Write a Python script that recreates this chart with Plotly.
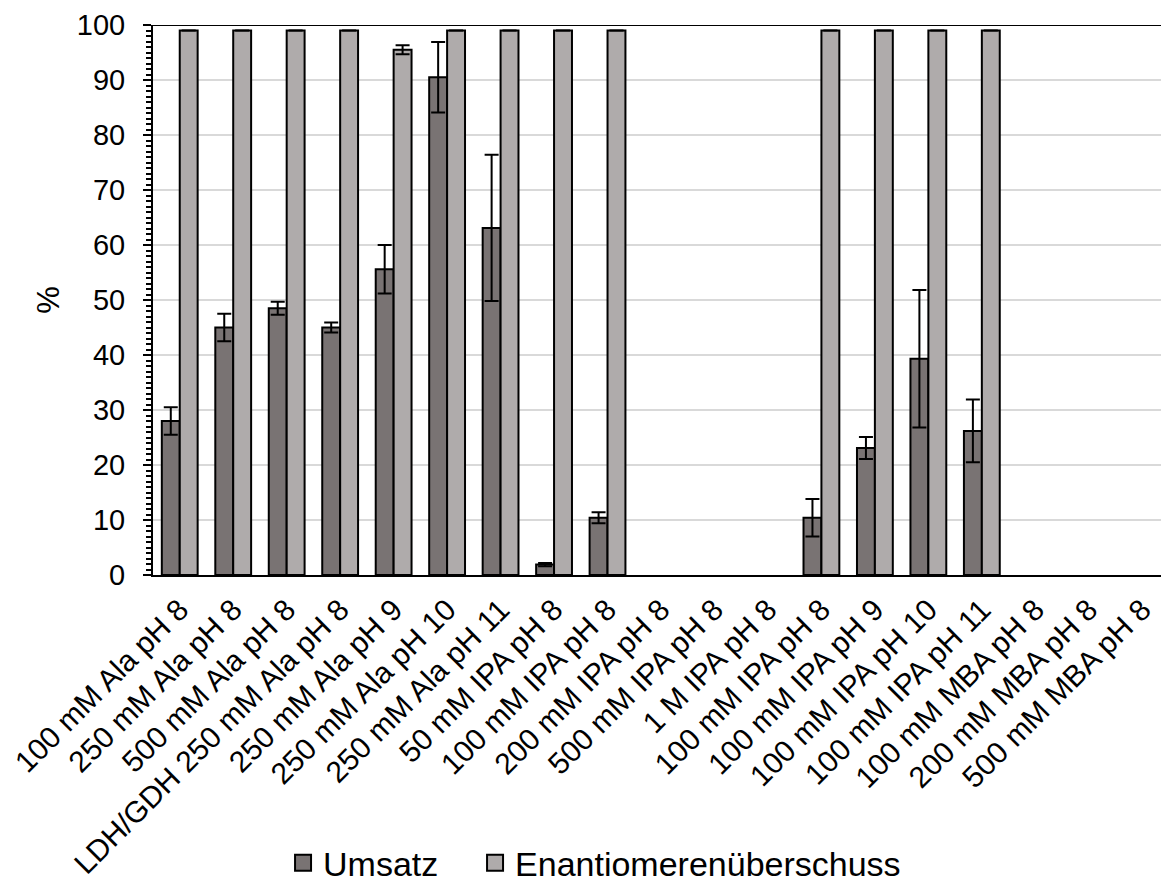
import plotly.graph_objects as go

categories = [
    "100 mM Ala pH 8", "250 mM Ala pH 8", "500 mM Ala pH 8",
    "LDH/GDH 250 mM Ala pH 8", "250 mM Ala pH 9", "250 mM Ala pH 10",
    "250 mM Ala pH 11", "50 mM IPA pH 8", "100 mM IPA pH 8",
    "200 mM IPA pH 8", "500 mM IPA pH 8", "1 M IPA pH 8",
    "100 mM IPA pH 8", "100 mM IPA pH 9", "100 mM IPA pH 10",
    "100 mM IPA pH 11", "100 mM MBA pH 8", "200 mM MBA pH 8",
    "500 mM MBA pH 8",
]
umsatz = [28.0, 45.0, 48.5, 45.0, 55.6, 90.5, 63.1, 1.9, 10.4, None, None, None,
          10.4, 23.1, 39.3, 26.2, None, None, None]
umsatz_err = [2.5, 2.5, 1.2, 0.9, 4.4, 6.4, 13.3, 0.3, 1.0, 0, 0, 0,
              3.4, 2.0, 12.5, 5.7, 0, 0, 0]
ee = [99, 99, 99, 99, 95.5, 99, 99, 99, 99, None, None, None,
      99, 99, 99, 99, None, None, None]
ee_err = [0, 0, 0, 0, 0.8, 0, 0, 0, 0, 0, 0, 0, 0, 0, 0, 0, 0, 0, 0]
y_ticks = [0, 10, 20, 30, 40, 50, 60, 70, 80, 90, 100]

DARK = "#797373"
LIGHT = "#afabab"
FONT = "Liberation Sans, Arial, sans-serif"

x = list(range(len(categories)))

fig = go.Figure()
fig.add_trace(go.Bar(
    x=x, y=umsatz, name="Umsatz", showlegend=False,
    marker=dict(color=DARK, line=dict(color="black", width=2)),
    error_y=dict(type="data", array=umsatz_err, color="black", thickness=2, width=7),
))
fig.add_trace(go.Bar(
    x=x, y=ee, name="Enantiomerenüberschuss", showlegend=False,
    marker=dict(color=LIGHT, line=dict(color="black", width=2)),
    error_y=dict(type="data", array=ee_err, color="black", thickness=2, width=7),
))
# legend entries
for nm, col, lw in [("Umsatz", DARK, 147), ("Enantiomerenüberschuss", LIGHT, None)]:
    kw = {"legendwidth": lw} if lw else {}
    fig.add_trace(go.Scatter(
        x=[None], y=[None], mode="markers", name=nm,
        marker=dict(symbol="square", size=16, color=col, line=dict(color="black", width=2)),
        **kw,
    ))

fig.add_shape(type="line", xref="paper", yref="y", x0=0, x1=1, y0=100, y1=100,
              line=dict(color="black", width=2))

fig.update_layout(
    width=1161, height=876,
    margin=dict(l=145, r=0, t=17, b=309, autoexpand=False),
    paper_bgcolor="white", plot_bgcolor="white",
    barmode="group", bargap=0.33, bargroupgap=0,
    font=dict(family=FONT, color="black", size=28),
    showlegend=True,
    legend=dict(orientation="h", x=0.128, xanchor="left", y=-0.524, yanchor="middle",
                font=dict(size=34, family=FONT, color="black"),
                bgcolor="rgba(0,0,0,0)", itemclick=False),
)
fig.update_xaxes(
    range=[-0.5, len(categories) - 0.5],
    tickmode="array", tickvals=x, ticktext=categories, tickangle=-45,
    tickfont=dict(size=30, family=FONT, color="black"),
    showline=True, linecolor="black", linewidth=2,
    ticks="", showgrid=False, zeroline=False, ticklabelstandoff=3,
    ticklabeloverflow="allow",
)
fig.update_yaxes(
    range=[0, 100], tickmode="array", tickvals=y_ticks,
    tickfont=dict(size=29, family=FONT, color="black"),
    showline=True, linecolor="black", linewidth=2,
    ticks="outside", ticklen=8, tickwidth=2, tickcolor="black",
    minor=dict(dtick=1, ticks="outside", ticklen=5, tickwidth=2, tickcolor="black", showgrid=False),
    showgrid=True, gridcolor="#d9d9d9", gridwidth=2, zeroline=False,
    ticklabelstandoff=12,
    title=dict(text="%", font=dict(size=31, family=FONT, color="black"), standoff=8),
)

fig.write_html("out.html")
